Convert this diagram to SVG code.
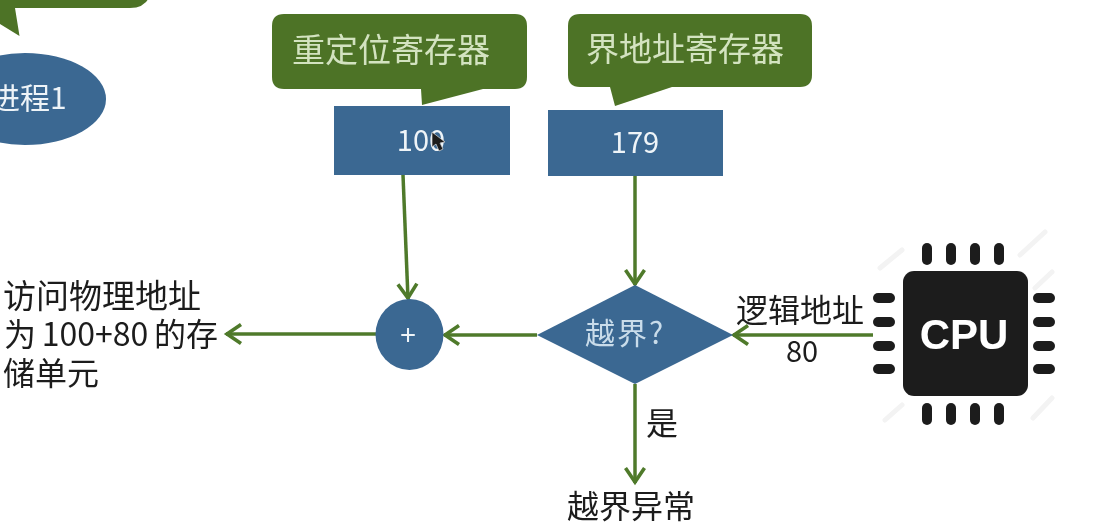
<svg xmlns="http://www.w3.org/2000/svg" width="1108" height="526" viewBox="0 0 1108 526">
<style>
text{font-family:"Noto Sans CJK SC","Noto Sans",sans-serif}
.blue{fill:#3a6792}
.green{fill:#4e7327}
.conn{stroke:#4f7a2c;stroke-width:3.5;fill:none;marker-end:url(#arr)}
.dark{fill:#1c1c1c;font-size:32px}
.lt{fill:#d3e3c0;font-size:33px}
.wh{fill:#eef4f8}
.pin{fill:#1e1e1e}
.hatch{stroke:#f3f3f3;stroke-width:5;stroke-linecap:round}
</style>
<defs>
<marker id="arr" markerUnits="userSpaceOnUse" markerWidth="24" markerHeight="26" refX="18" refY="13" orient="auto">
<path d="M3 3.500L17 13L3 22.500" fill="none" stroke="#4f7a2c" stroke-width="3.600"/>
</marker>
<filter id="soft" x="-2%" y="-2%" width="104%" height="104%"><feGaussianBlur stdDeviation="0.5"/></filter>
</defs>
<rect width="1108" height="526" fill="#fff"/>
<g filter="url(#soft)">
<g id="callout-top"><path class="green" d="M-5 -10H152Q148 8 130 8H15L19.500 36L0 24H-5Z"/></g>
<g id="process1"><ellipse class="blue" cx="25" cy="99" rx="81" ry="46"/><text class="wh" x="-10" y="109" font-size="30">进程1</text></g>
<g id="callout-relocation"><path class="green" d="M284 14H515Q527 14 527 26V77Q527 89 515 89H483L422 105L421 89H284Q272 89 272 77V26Q272 14 284 14Z"/><text class="lt" x="292" y="62">重定位寄存器</text></g>
<g id="callout-limit"><path class="green" d="M580 14H800Q812 14 812 26V75Q812 87 800 87H672L615 106L610 87H580Q568 87 568 75V26Q568 14 580 14Z"/><text class="lt" x="586" y="61">界地址寄存器</text></g>
<g id="reg-relocation"><rect class="blue" x="334" y="106" width="176" height="69"/><text class="wh" x="421" y="151" font-size="29" text-anchor="middle">100</text><path d="M432 132L432 147L436 144L439 151L443 149L440 143L445 142Z" fill="#1b1b1b" stroke="#ddd" stroke-width=".7"/></g>
<g id="reg-limit"><rect class="blue" x="548" y="110" width="175" height="66"/><text class="wh" x="635" y="153" font-size="29" text-anchor="middle">179</text></g>
<g id="connectors">
<path class="conn" d="M403 175L408 299"/>
<path class="conn" d="M635 176V285"/>
<path class="conn" d="M873 335H733"/>
<path class="conn" d="M537 335H444"/>
<path class="conn" d="M376 334H226"/>
<path class="conn" d="M635 384V483"/>
</g>
<g id="adder"><ellipse class="blue" cx="409.500" cy="334.500" rx="34" ry="35.500"/><text class="wh" x="408" y="345" font-size="28" text-anchor="middle">+</text></g>
<g id="check"><path class="blue" d="M635 285L733 335L635 384L537 335Z"/><text x="585" y="344" font-size="30" fill="#c9dcea" letter-spacing="2">越界?</text></g>
<g id="cpu">
<g class="hatch"><path d="M880 268L902 250M1020 255L1045 232M1033 418L1052 398M885 420L902 405M1035 288L1052 272"/></g>
<rect x="903" y="271" width="125" height="125" rx="11" fill="#1e1e1e"/>
<g class="pin"><rect x="922" y="243" width="10" height="22" rx="5"/><rect x="946" y="243" width="10" height="22" rx="5"/><rect x="970" y="243" width="10" height="22" rx="5"/><rect x="994" y="243" width="10" height="22" rx="5"/><rect x="922" y="403" width="10" height="22" rx="5"/><rect x="946" y="403" width="10" height="22" rx="5"/><rect x="970" y="403" width="10" height="22" rx="5"/><rect x="994" y="403" width="10" height="22" rx="5"/><rect x="873" y="293" width="22" height="10" rx="5"/><rect x="873" y="317" width="22" height="10" rx="5"/><rect x="873" y="341" width="22" height="10" rx="5"/><rect x="873" y="364" width="22" height="10" rx="5"/><rect x="1033" y="293" width="22" height="10" rx="5"/><rect x="1033" y="317" width="22" height="10" rx="5"/><rect x="1033" y="341" width="22" height="10" rx="5"/><rect x="1033" y="364" width="22" height="10" rx="5"/></g>
<text x="964" y="349" fill="#fff" font-size="42" font-weight="700" text-anchor="middle" style="font-family:'Liberation Sans',sans-serif">CPU</text>
</g>
<g id="labels">
<text class="dark" x="736" y="322">逻辑地址</text>
<text class="dark" x="802" y="362" text-anchor="middle" style="font-size:29px">80</text>
<text class="dark" x="646" y="435">是</text>
<text class="dark" x="567" y="518">越界异常</text>
<text class="dark" x="3" y="308" style="font-size:33px">访问物理地址</text>
<text class="dark" x="4" y="346" word-spacing="-1.500">为 100+80 的存</text>
<text class="dark" x="3" y="385">储单元</text>
</g>
</g>
</svg>
